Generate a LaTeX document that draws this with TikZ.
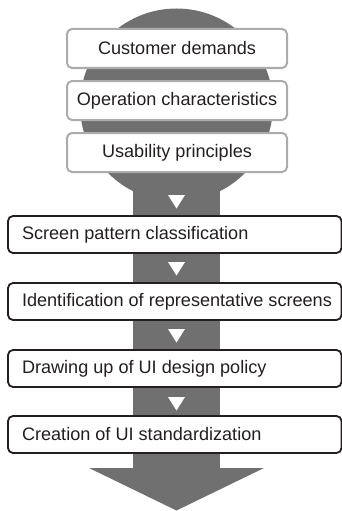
\documentclass[tikz,border=0pt]{standalone}
\usepackage{fontspec}
\setmainfont{Liberation Sans}
\definecolor{funnelgray}{RGB}{112,112,112}
\definecolor{lightborder}{RGB}{172,172,172}
\definecolor{darkborder}{RGB}{35,31,32}
\definecolor{textcol}{RGB}{35,31,32}
\newcommand{\steptxt}[1]{\makebox[305.5pt][l]{#1}}
\tikzset{
  inputbox/.style={draw=lightborder, line width=2pt, fill=white, rounded corners=5pt,
    minimum width=220pt, minimum height=39pt, inner sep=0pt, text=textcol,
    font=\fontsize{18.1}{21}\selectfont},
  stepbox/.style={draw=darkborder, line width=1.8pt, fill=white, rounded corners=5pt,
    inner xsep=14pt, inner ysep=0pt, minimum height=37pt,
    text=textcol, font=\fontsize{18.1}{21}\selectfont},
  pointer/.style={fill=white, draw=none}
}
\begin{document}
\begin{tikzpicture}[x=1pt,y=-1pt]
\useasboundingbox (0,0) rectangle (342,511);
% funnel
\fill[funnelgray] (176.5,105) circle[radius=96.5];
\fill[funnelgray] (133,105) rectangle (220,470);
\fill[funnelgray] (89,468) -- (264,468) -- (176.5,510.5) -- cycle;
% input boxes
\node[inputbox] (cust) at (177,48.5) {Customer demands};
\node[inputbox] (oper) at (177,100.5) {Operation characteristics};
\node[inputbox] (usab) at (177,152.5) {Usability principles};
% step boxes
\node[stepbox] (scr) at (174.75,234.5) {\steptxt{Screen pattern classification}};
\node[stepbox] (ident) at (174.75,301.5) {\steptxt{Identification of representative screens}};
\node[stepbox] (draw) at (174.75,368.5) {\steptxt{Drawing up of UI design policy}};
\node[stepbox] (crea) at (174.75,434.5) {\steptxt{Creation of UI standardization}};
% small white triangles
\foreach \y in {195,262,329,397}{
  \fill[pointer] (168,\y) -- (185,\y) -- (176.5,\y+13.5) -- cycle;
}
\end{tikzpicture}
\end{document}
